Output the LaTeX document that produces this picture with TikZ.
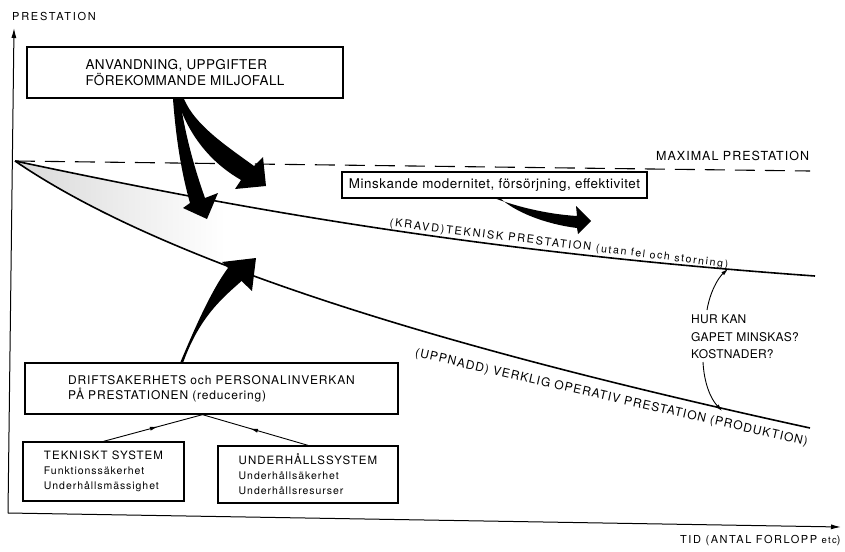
\documentclass[tikz,border=0pt]{standalone}
\usepackage{fontspec}
\setmainfont{TeX Gyre Heros}
\usetikzlibrary{arrows.meta,decorations.markings}

% size, leading, letter spacing
\newcommand{\txtfont}[3]{\fontsize{#1}{#2}\selectfont\addfontfeatures{LetterSpace=#3}}

\begin{document}
\begin{tikzpicture}[x=1pt,y=-1pt,
  boxstyle/.style={draw, line width=1.3pt, inner sep=0pt, align=left},
  curvestyle/.style={line width=1.6pt},
  axisstyle/.style={line width=1pt, -{Latex[length=10pt,width=5pt]}},
  maxline/.style={line width=1.1pt, dash pattern=on 20pt off 10pt},
  bigarrow/.style={fill=black},
  thinarrow/.style={line width=0.9pt, -{Latex[length=7pt,width=4pt]}},
  linkstyle/.style={line width=0.9pt,
    decoration={markings, mark=at position 0.55 with {\arrow{Latex[length=8pt,width=4pt]}}},
    postaction=decorate},
  lbl/.style={inner sep=0pt}
]
\useasboundingbox (0,0) rectangle (845,551);

% axes
\coordinate (O) at (8,513);
\coordinate (ytop) at (14,28);
\coordinate (xend) at (841,527);
\draw[axisstyle] (O) -- (ytop);
\draw[axisstyle] (O) -- (xend);
\node[lbl, anchor=west, font={\txtfont{11}{13}{16}}] (ylab) at (12,16) {PRESTATION};
\node[lbl, anchor=west, font={\txtfont{11}{13}{14}}] (tid) at (680,541)
  {TID (ANTAL FORLOPP {\fontsize{9.5}{12}\selectfont etc})};

% gap between the two curves, shaded near the origin
\begin{scope}
  \clip (15,161) .. controls (200,200) and (450,250) .. (815,276)
        -- (810,428) .. controls (430,345) and (160,260) .. (15,161) -- cycle;
  \shade[left color=gray!30, middle color=gray!18, right color=white] (15,150) rectangle (225,300);
\end{scope}

% maximal performance
\coordinate (maxA) at (15,161);
\coordinate (maxB) at (810,171);
\draw[maxline] (maxA) -- (maxB);
\node[lbl, anchor=west, font={\txtfont{12.5}{15}{8}}] (maxlab) at (656,156) {MAXIMAL PRESTATION};

% required technical and achieved operational performance
\draw[curvestyle] (maxA) .. controls (200,200) and (450,250) .. (815,276);
\draw[curvestyle] (maxA) .. controls (160,260) and (430,345) .. (810,428);
\node[lbl, rotate=-7, font={\txtfont{11}{13}{16}}] (kravlab) at (559,244)
  {(KRAVD)TEKNISK PRESTATION {\fontsize{10.5}{13}\selectfont(utan fel och storning)}};
\node[lbl, rotate=-12.8, font={\txtfont{12}{14}{9}}] (opllab) at (611.5,398)
  {(UPPNADD) VERKLIG OPERATIV PRESTATION (PRODUKTION)};

% boxes
\node[boxstyle, minimum width=316pt, minimum height=51pt, font={\txtfont{13.5}{16}{3}}]
  (use) at (185,72.5) {ANVANDNING, UPPGIFTER\\FÖREKOMMANDE MILJOFALL};
\node[boxstyle, minimum width=305pt, minimum height=26pt, font={\txtfont{13.4}{16}{4}}]
  (mod) at (494.5,185) {Minskande modernitet, försörjning, effektivitet};
\node[boxstyle, minimum width=373pt, minimum height=51pt, font={\txtfont{12}{15}{7}}]
  (drift) at (211.5,388.5) {DRIFTSAKERHETS och PERSONALINVERKAN\\PÅ PRESTATIONEN (reducering)};
\node[boxstyle, minimum width=161pt, minimum height=59pt, font={\txtfont{10.5}{15}{9}}]
  (tek) at (103.5,471.5) {{\fontsize{11.5}{15}\selectfont TEKNISKT SYSTEM}\\Funktionssäkerhet\\Underhållsmässighet};
\node[boxstyle, minimum width=180pt, minimum height=57pt, font={\txtfont{10.5}{15}{9}}]
  (und) at (308,474.5) {{\fontsize{11.5}{15}\selectfont UNDERHÅLLSSYSTEM}\\Underhållsäkerhet\\Underhållsresurser};

% subsystems feeding the reliability box
\coordinate (driftin) at ([xshift=-9pt]drift.south);
\draw[linkstyle] (tek.north) -- (driftin);
\draw[linkstyle] (und.north) -- (driftin);

% heavy curved arrows
\fill[bigarrow] (173,99) .. controls (176,140) and (182,175) .. (190,203)
  -- (183,208) -- (207,219) -- (218,193) -- (205,198)
  .. controls (195,170) and (185,135) .. (180,99) -- cycle;
\fill[bigarrow] (177,99) .. controls (190,140) and (215,165) .. (241,180)
  -- (235,189) -- (266,186) -- (263,157) -- (254,166)
  .. controls (225,145) and (195,125) .. (184,99) -- cycle;
\fill[bigarrow] (180,363) .. controls (192,335) and (210,292) .. (228,268)
  -- (222,262) -- (256,258) -- (252,291) -- (241.5,281)
  .. controls (225,296) and (200,315) .. (183,363) -- cycle;
\fill[bigarrow] (494,198) .. controls (515,206) and (545,214) .. (577,216)
  -- (576,206) -- (591,221) -- (578,234) -- (577,228)
  .. controls (545,224) and (515,212) .. (500,198) -- cycle;

% closing the gap
\node[lbl, anchor=north west, align=left, font={\txtfont{12}{17.5}{2}}]
  (gap) at (691,315) {HUR KAN\\GAPET MINSKAS?\\KOSTNADER?};
\coordinate (gapup) at (707,310);
\coordinate (kravpt) at (728,269);
\coordinate (gapdn) at (703,362);
\coordinate (oplpt) at (722,411);
\draw[thinarrow] (gapup) .. controls (710,292) and (718,278) .. (kravpt);
\draw[thinarrow] (gapdn) .. controls (704,382) and (710,398) .. (oplpt);
\end{tikzpicture}
\end{document}
